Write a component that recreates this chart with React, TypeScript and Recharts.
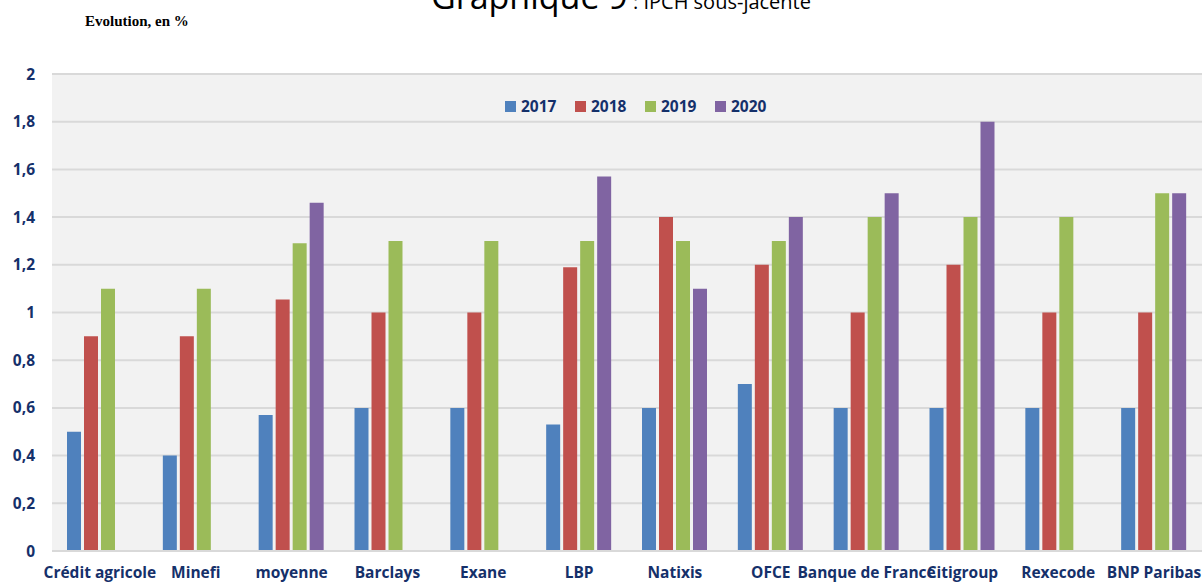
import { BarChart, Bar, XAxis, YAxis, CartesianGrid } from 'recharts';

const categories = ['Crédit agricole', 'Minefi', 'moyenne', 'Barclays', 'Exane', 'LBP', 'Natixis', 'OFCE', 'Banque de France', 'Citigroup', 'Rexecode', 'BNP Paribas'];
const v2017 = [0.5, 0.4, 0.57, 0.6, 0.6, 0.53, 0.6, 0.7, 0.6, 0.6, 0.6, 0.6];
const v2018 = [0.9, 0.9, 1.055, 1.0, 1.0, 1.19, 1.4, 1.2, 1.0, 1.2, 1.0, 1.0];
const v2019 = [1.1, 1.1, 1.29, 1.3, 1.3, 1.3, 1.3, 1.3, 1.4, 1.4, 1.4, 1.5];
const v2020 = [null, null, 1.46, null, null, 1.57, 1.1, 1.4, 1.5, 1.8, null, 1.5];
const yTicks = [0, 0.2, 0.4, 0.6, 0.8, 1, 1.2, 1.4, 1.6, 1.8, 2];

const series = [
  { key: '2017', color: '#4f81bd' },
  { key: '2018', color: '#c0504d' },
  { key: '2019', color: '#9bbb59' },
  { key: '2020', color: '#8064a2' },
];

const data = categories.map((name, i) => ({
  name,
  '2017': v2017[i],
  '2018': v2018[i],
  '2019': v2019[i],
  '2020': v2020[i],
}));

const navy = '#15306a';
const font = '"Open Sans", sans-serif';
const tickStyle = { fill: navy, fontSize: 15.5, fontWeight: 700, fontFamily: font };

// legend drawn outside the chart so it doesn't eat into the plot offset
const LegendBox = () => (
  <div style={{ position: 'absolute', top: 96, left: 505, display: 'flex', fontFamily: font, fontWeight: 700, fontSize: 15.5, color: navy, lineHeight: '20px' }}>
    {series.map(s => (
      <div key={s.key} style={{ display: 'flex', alignItems: 'center', width: 70 }}>
        <span style={{ width: 11, height: 11, background: s.color, marginRight: 5, display: 'inline-block' }} />
        <span>{s.key}</span>
      </div>
    ))}
  </div>
);

export default function App() {
  return (
    <div style={{ position: 'absolute', left: 0, top: 0, width: 1202, height: 584, overflow: 'hidden', background: '#fff' }}>
      <div style={{ position: 'absolute', top: -21, left: 321, width: 600, textAlign: 'center', whiteSpace: 'nowrap', fontFamily: font, fontWeight: 500, color: '#000', lineHeight: '34px' }}>
        <span style={{ fontSize: 34 }}>Graphique 9</span>
        <span style={{ fontSize: 20 }}> : IPCH sous-jacente</span>
      </div>
      <div style={{ position: 'absolute', top: 13, left: 85, fontFamily: '"Liberation Serif", serif', fontWeight: 700, fontSize: 15, color: '#000' }}>
        Evolution, en %
      </div>
      <BarChart width={1202} height={584} data={data} margin={{ top: 74, right: 0, left: 0, bottom: 0 }} barSize={14} barGap={3}>
        <CartesianGrid vertical={false} stroke="#d9d9d9" strokeWidth={2} fill="#f2f2f2" />
        <XAxis
          dataKey="name"
          interval={0}
          height={33}
          tickLine={false}
          axisLine={{ stroke: '#d9d9d9', strokeWidth: 2 }}
          tickSize={0}
          tickMargin={16}
          tick={tickStyle}
        />
        <YAxis
          width={52}
          domain={[0, 2]}
          ticks={yTicks}
          interval={0}
          axisLine={false}
          tickLine={false}
          tickSize={0}
          tickMargin={17}
          tickFormatter={(v: number) => String(v).replace('.', ',')}
          tick={tickStyle}
        />
        {series.map(s => (
          <Bar key={s.key} dataKey={s.key} fill={s.color} isAnimationActive={false} />
        ))}
      </BarChart>
      <LegendBox />
    </div>
  );
}
